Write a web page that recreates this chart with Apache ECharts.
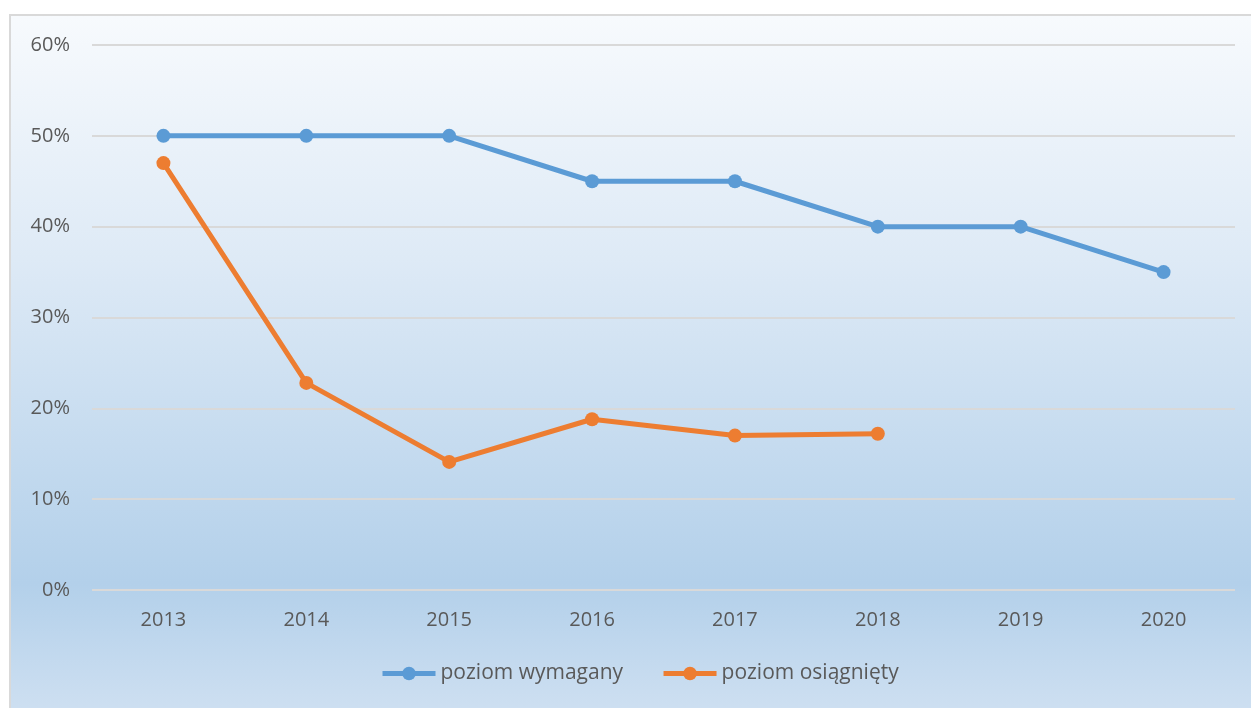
<!DOCTYPE html>
<html><head><meta charset="utf-8">
<script src="https://cdn.jsdelivr.net/npm/echarts@6/dist/echarts.min.js"></script>
<style>
html,body{margin:0;padding:0;background:#fff;width:1251px;height:708px;overflow:hidden}
#c{position:absolute;left:9px;top:14px;width:1242px;height:694px;border-left:2px solid #d9d9d9;border-top:2px solid #d9d9d9;box-sizing:border-box}
</style></head><body>
<div id="c"></div>
<script>
const categories = ['2013','2014','2015','2016','2017','2018','2019','2020'];
const required = [50, 50, 50, 45, 45, 40, 40, 35];
const achieved = [47, 22.8, 14.1, 18.8, 17.0, 17.2, null, null];
const seriesNames = ['poziom wymagany', 'poziom osiągnięty'];
const yTicks = [0, 10, 20, 30, 40, 50, 60];

const chart = echarts.init(document.getElementById('c'));
const font = 'Open Sans';
chart.setOption({
  backgroundColor: {type:'linear', x:0, y:0, x2:0, y2:1, colorStops:[
    {offset:0, color:'#f7fafd'},
    {offset:0.35, color:'#deeaf6'},
    {offset:0.82, color:'#b3d0ea'},
    {offset:1, color:'#cddff1'}
  ]},
  animation:false,
  grid:{left:81, right:16, top:29, bottom:118},
  legend:{
    top:647, left:369, padding:0, itemWidth:53, itemHeight:17, itemGap:38,
    textStyle:{fontFamily:font, fontSize:21, color:'#595959'},
    lineStyle:{width:5},
    data: seriesNames
  },
  xAxis:{
    type:'category', data:categories, boundaryGap:true,
    axisLine:{show:false}, axisTick:{show:false},
    axisLabel:{fontFamily:font, fontSize:20, color:'#595959', margin:20}
  },
  yAxis:{
    type:'value', min:yTicks[0], max:yTicks[yTicks.length-1], interval:10,
    axisLine:{show:false}, axisTick:{show:false},
    axisLabel:{fontFamily:font, fontSize:20, color:'#595959', margin:22, formatter: v => v + '%'},
    splitLine:{lineStyle:{color:'#d9d9d9', width:2}}
  },
  series:[
    {name:seriesNames[0], type:'line', data:required, color:'#5b9bd5',
     symbol:'circle', symbolSize:14, lineStyle:{width:5}, itemStyle:{color:'#5b9bd5'}},
    {name:seriesNames[1], type:'line', data:achieved, color:'#ed7d31',
     symbol:'circle', symbolSize:14, lineStyle:{width:5}, itemStyle:{color:'#ed7d31'}}
  ]
});
</script>
</body></html>
